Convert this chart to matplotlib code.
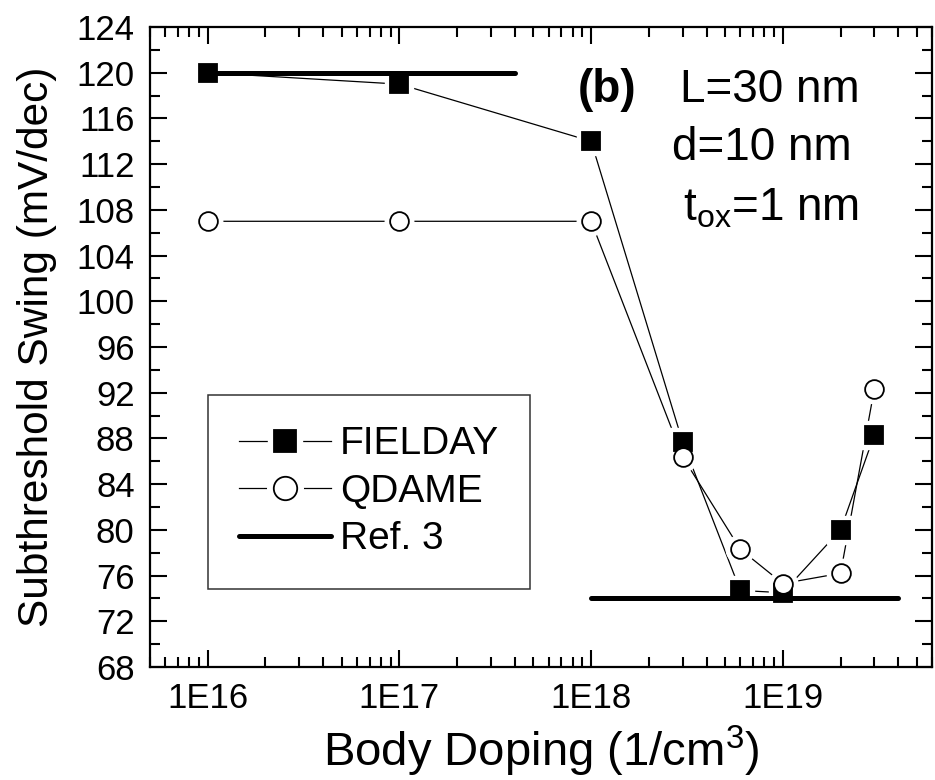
import matplotlib
matplotlib.use("Agg")
import matplotlib.pyplot as plt
from matplotlib.ticker import LogLocator, MultipleLocator, FixedLocator, FixedFormatter, NullFormatter

plt.rcParams['font.family'] = ['Liberation Sans', 'DejaVu Sans']
plt.rcParams['mathtext.default'] = 'regular'

# Body doping (1/cm^3)
doping = [1e16, 1e17, 1e18, 3e18, 6e18, 1e19, 2e19, 3e19]
fielday = [120.0, 119.0, 114.0, 87.7, 74.7, 74.5, 80.0, 88.3]
qdame = [107.0, 107.0, 107.0, 86.4, 78.3, 75.3, 76.2, 92.3]

# Reference values (Ref. 3): low- and high-doping limits
ref_low_x = [1e16, 4e17]
ref_low_y = [120.0, 120.0]
ref_high_x = [1e18, 4e19]
ref_high_y = [74.0, 74.0]

x_ticks = [1e16, 1e17, 1e18, 1e19]
x_labels = ["1E16", "1E17", "1E18", "1E19"]

fig = plt.figure(figsize=(9.35, 7.8), dpi=100)
ax = fig.add_axes([150 / 935, 113 / 780, 782 / 935, 640 / 780])

ax.set_xscale('log')
ax.set_xlim(5e15, 6e19)
ax.set_ylim(68, 124)

ref1, = ax.plot(ref_low_x, ref_low_y, color='black', lw=3.6, solid_capstyle='round', zorder=2)
ax.plot(ref_high_x, ref_high_y, color='black', lw=3.6, solid_capstyle='round', zorder=2)


def series(y, marker, face, size, z):
    # thin connecting line, a white halo that opens a gap, then the marker
    line, = ax.plot(doping, y, color='black', lw=0.9, zorder=1)
    halo, = ax.plot(doping, y, ls='none', marker=marker, ms=size + 7,
                    mfc='white', mec='white', zorder=1.5)
    mk, = ax.plot(doping, y, ls='none', marker=marker, ms=size,
                  mfc=face, mec='black', mew=1.3, zorder=z)
    return line, halo, mk


f_line, f_halo, f_mk = series(fielday, 's', 'black', 12.5, 3)
q_line, q_halo, q_mk = series(qdame, 'o', 'white', 13.5, 4)

# Axis ticks
ax.xaxis.set_major_locator(FixedLocator(x_ticks))
ax.xaxis.set_major_formatter(FixedFormatter(x_labels))
ax.xaxis.set_minor_locator(LogLocator(base=10, subs=range(2, 10), numticks=20))
ax.xaxis.set_minor_formatter(NullFormatter())
ax.yaxis.set_major_locator(MultipleLocator(4))
ax.yaxis.set_minor_locator(MultipleLocator(2))

ax.tick_params(which='both', direction='in', top=True, right=True, width=1.5,
               labelsize=25, pad=11)
ax.tick_params(which='major', length=12)
ax.tick_params(which='minor', length=7)
for s in ax.spines.values():
    s.set_linewidth(1.6)

ax.set_xlabel('Body Doping (1/cm$^{3}$)', fontsize=34, labelpad=6)
ax.set_ylabel('Subthreshold Swing (mV/dec)', fontsize=30.5, labelpad=14)

# Annotations
ax.text(0.547, 0.883, '(b)', transform=ax.transAxes, fontsize=33,
        fontweight='bold', ha='left', va='baseline')
ax.text(0.678, 0.883, 'L=30 nm', transform=ax.transAxes, fontsize=33,
        ha='left', va='baseline')
ax.text(0.667, 0.792, 'd=10 nm', transform=ax.transAxes, fontsize=33,
        ha='left', va='baseline')
ax.text(0.681, 0.698, 't$_{ox}$=1 nm', transform=ax.transAxes, fontsize=33,
        ha='left', va='baseline')

leg = ax.legend([(f_line, f_halo, f_mk), (q_line, q_halo, q_mk), ref1],
                ['FIELDAY', 'QDAME', 'Ref. 3'],
                loc='upper left', bbox_to_anchor=(58 / 782, 272 / 640),
                fontsize=28, frameon=True, fancybox=False, numpoints=1,
                markerscale=1.25,
                handlelength=2.35, handletextpad=0.25, labelspacing=0.3,
                borderpad=0.8, borderaxespad=0)
leg.get_frame().set_edgecolor('black')
leg.get_frame().set_linewidth(1.1)

fig.savefig('out.png', dpi=100)
